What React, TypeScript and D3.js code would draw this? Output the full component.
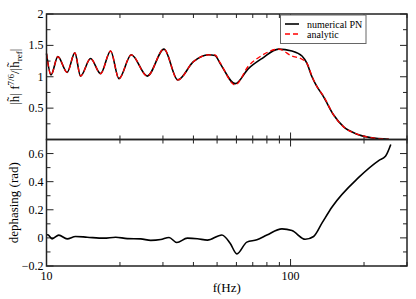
import React from 'react';
import * as d3 from 'd3';

// amplitude panel: frequency (Hz) and |h| f^(7/6) / |h_ref|
const ampFreq = [10, 10.44, 11.13, 12.15, 13.07, 13.79, 15.16, 16.66, 18.31, 19.81, 22.25, 25.88, 30.3, 34.5, 40, 46.1, 49, 51.5, 59.3, 67.2, 76.3, 89.3, 101.3, 111.4, 116.5, 122.4, 126.3, 136.6, 150.2, 165.1, 187.3, 212.4, 252.6];
const ampNumerical = [1.37, 1.03, 1.32, 1.07, 1.38, 1.01, 1.29, 1.05, 1.41, 0.97, 1.35, 1.01, 1.44, 0.95, 1.24, 1.35, 1.34, 1.21, 0.89, 1.13, 1.29, 1.44, 1.41, 1.33, 1.22, 1.0, 0.89, 0.68, 0.39, 0.2, 0.085, 0.03, 0.005];
const ampAnalytic = [1.37, 1.03, 1.32, 1.07, 1.38, 1.01, 1.29, 1.05, 1.41, 0.97, 1.35, 1.01, 1.44, 0.95, 1.24, 1.35, 1.35, 1.22, 0.87, 1.17, 1.34, 1.44, 1.33, 1.28, 1.22, 1.01, 0.89, 0.69, 0.39, 0.2, 0.085, 0.03, 0.005];

// dephasing panel
const phaseFreq = [10, 10.12, 10.54, 11.23, 12.15, 13.15, 14.68, 17.19, 19.2, 21.42, 24.32, 26.73, 29.38, 31.77, 34.19, 37.78, 41.52, 45.63, 52.3, 56.55, 60.26, 66.2, 72.8, 80, 92.2, 101.3, 114.9, 124.3, 135, 147.9, 190.2, 229.7, 244.8, 257.4];
const phaseValues = [0.02, 0.022, -0.007, 0.02, -0.007, 0.01, 0.005, -0.002, 0.005, -0.005, -0.007, -0.018, -0.012, 0.003, -0.033, -0.002, -0.006, -0.016, 0.021, -0.038, -0.114, -0.03, -0.014, 0.02, 0.064, 0.052, -0.01, 0.01, 0.11, 0.22, 0.43, 0.55, 0.58, 0.664];

// ticks
const xMajor = [10, 100];
const xMinor = [20, 30, 40, 50, 60, 70, 80, 90, 200, 300];
const ampMajor = [0.5, 1, 1.5, 2];
const ampMinor = [0.25, 0.75, 1.25, 1.75];
const phaseMajor = [-0.2, 0, 0.2, 0.4, 0.6];
const phaseMinor = [-0.1, 0.1, 0.3, 0.5, 0.7];

const legendLabels = ['numerical PN', 'analytic'];

const W = 416, H = 299;
const left = 46.5, right = 407, top = 14, mid = 139.5, bottom = 266;
const FONT = 'Liberation Serif';

const x = d3.scaleLog().domain([10, 300]).range([left, right]);
const yAmp = d3.scaleLinear().domain([0, 2]).range([mid, top]);
const yPhase = d3.scaleLinear().domain([-0.2, 0.7]).range([bottom, mid]);

const ampLine = (vals: number[]) =>
  d3.line<number>().x((_, i) => x(ampFreq[i])).y(d => yAmp(d)).curve(d3.curveMonotoneX)(vals) || '';
const phaseLine =
  d3.line<number>().x((_, i) => x(phaseFreq[i])).y(d => yPhase(d)).curve(d3.curveMonotoneX)(phaseValues) || '';

const MAJ = 7, MIN = 4;

// inward ticks on all four sides of one panel
function PanelTicks({ y, yTop, yBot, major, minor }: any) {
  return (
    <g stroke="#222" strokeWidth={1}>
      {xMajor.concat(xMinor).map(v => {
        const len = xMajor.includes(v) ? MAJ : MIN;
        return (
          <g key={'x' + v}>
            <line x1={x(v)} x2={x(v)} y1={yBot} y2={yBot - len} />
            <line x1={x(v)} x2={x(v)} y1={yTop} y2={yTop + len} />
          </g>
        );
      })}
      {major.concat(minor).map((v: number) => {
        const len = major.includes(v) ? MAJ : MIN;
        return (
          <g key={'y' + v}>
            <line x1={left} x2={left + len} y1={y(v)} y2={y(v)} />
            <line x1={right} x2={right - len} y1={y(v)} y2={y(v)} />
          </g>
        );
      })}
    </g>
  );
}

export default function App() {
  return (
    <svg width={W} height={H} style={{ position: 'absolute', left: 0, top: 0, background: '#fff' }}>
      <rect width={W} height={H} fill="#fff" />
      <PanelTicks y={yAmp} yTop={top} yBot={mid} major={ampMajor} minor={ampMinor} />
      <PanelTicks y={yPhase} yTop={mid} yBot={bottom} major={phaseMajor} minor={phaseMinor} />

      {/* curves */}
      <path d={ampLine(ampNumerical)} fill="none" stroke="#000" strokeWidth={1.6} />
      <path d={ampLine(ampAnalytic)} fill="none" stroke="#ff0000" strokeWidth={1.3} strokeDasharray="5,3" />
      <path d={phaseLine} fill="none" stroke="#000" strokeWidth={1.6} />

      {/* frames */}
      <rect x={left} y={top} width={right - left} height={mid - top} fill="none" stroke="#222" strokeWidth={1.5} />
      <rect x={left} y={mid} width={right - left} height={bottom - mid} fill="none" stroke="#222" strokeWidth={1.5} />

      {/* tick labels */}
      <g fontSize={12} fill="#000" textAnchor="end">
        {ampMajor.map(v => (
          <text key={'a' + v} fontFamily={FONT} x={left - 3} y={yAmp(v) + 4}>{d3.format('')(v)}</text>
        ))}
        {phaseMajor.map(v => (
          <text key={'p' + v} fontFamily={FONT} x={left - 3} y={yPhase(v) + 4}>{v === 0 ? '0' : d3.format('.1f')(v)}</text>
        ))}
      </g>
      <g fontSize={12} fill="#000" textAnchor="middle">
        {xMajor.map(v => (
          <text key={'f' + v} fontFamily={FONT} x={x(v)} y={280}>{v}</text>
        ))}
      </g>

      {/* axis titles */}
      <text fontFamily={FONT} x={(left + right) / 2} y={292} fontSize={13} textAnchor="middle">f(Hz)</text>
      <text fontFamily={FONT} transform={`translate(19,${(top + mid) / 2}) rotate(-90)`} fontSize={13} textAnchor="middle">
        |h&#x303;| f<tspan dy={-5} fontSize={9}>7/6</tspan><tspan dy={5}>/|h&#x303;</tspan><tspan dy={3} fontSize={9}>ref</tspan><tspan dy={-3}>|</tspan>
      </text>
      <text fontFamily={FONT} transform={`translate(18,${(mid + bottom) / 2}) rotate(-90)`} fontSize={13} textAnchor="middle">dephasing (rad)</text>

      {/* legend */}
      <g>
        <rect x={280.5} y={15} width={85.5} height={28.5} fill="#fff" stroke="#666" strokeWidth={1} />
        <line x1={285} x2={299} y1={24} y2={24} stroke="#000" strokeWidth={1.6} />
        <line x1={285} x2={299} y1={34} y2={34} stroke="#ff0000" strokeWidth={1.3} strokeDasharray="5,3" />
        <text fontFamily={FONT} x={307} y={27.5} fontSize={10}>{legendLabels[0]}</text>
        <text fontFamily={FONT} x={307} y={37.5} fontSize={10}>{legendLabels[1]}</text>
      </g>
    </svg>
  );
}
